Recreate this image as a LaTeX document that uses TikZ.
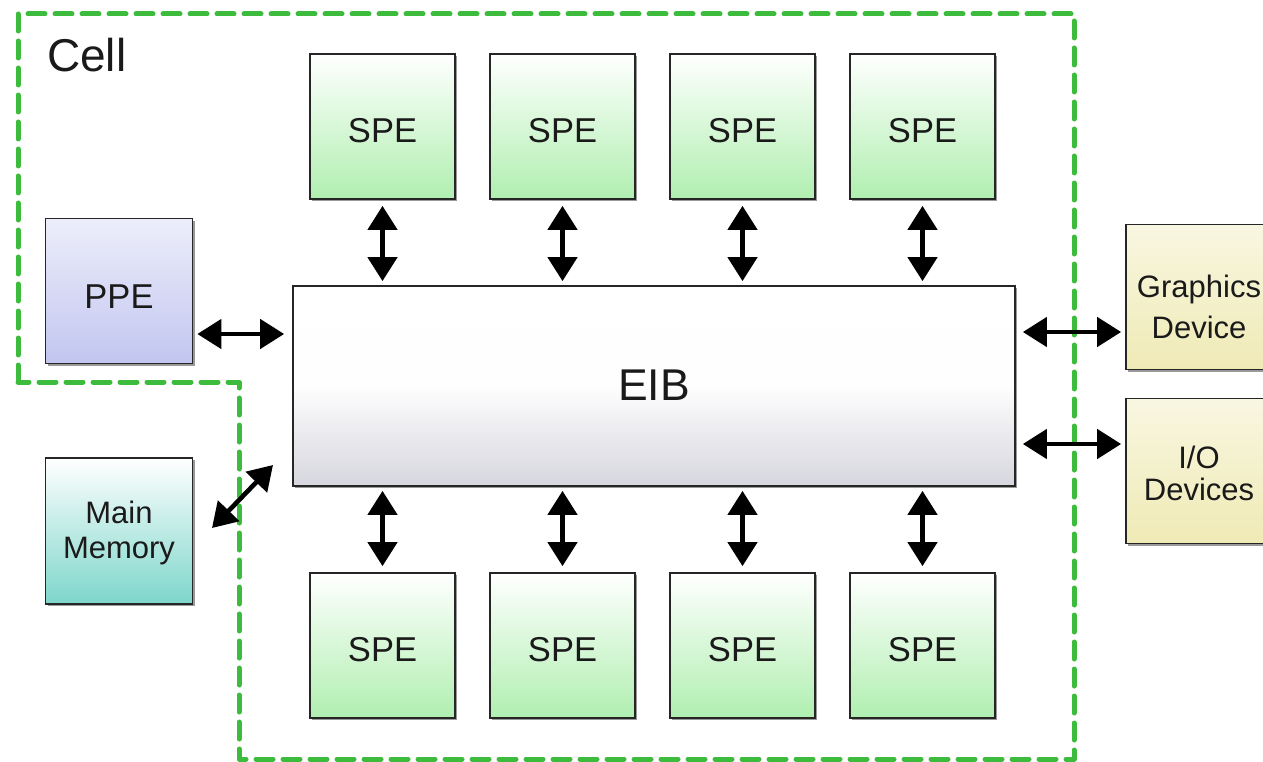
\documentclass[tikz,border=0pt]{standalone}
\usepackage{fontspec}
\setmainfont{Liberation Sans}
\usetikzlibrary{arrows.meta,shadows,calc}
\definecolor{spegreen}{HTML}{B0EFB0}
\definecolor{ppeblue}{HTML}{C2C6F0}
\definecolor{memteal}{HTML}{7DD6CB}
\definecolor{devyellow}{HTML}{EFEAB5}
\definecolor{eibgrey}{HTML}{D6D6DE}
\definecolor{cellgreen}{HTML}{3DBB3D}
\definecolor{txt}{HTML}{1A1A1A}
\newcommand{\lowr}[2]{\raisebox{-#1}[\height][\depth]{#2}}
\newcommand{\twol}[2]{\begin{tabular}{@{}c@{}}#1\\#2\end{tabular}}
\tikzset{
  box/.style={draw=black!85, line width=1.7pt, inner sep=0pt, text=txt,
    drop shadow={shadow xshift=2pt, shadow yshift=-2pt, fill=black, opacity=0.4}},
  spebox/.style={box, minimum width=145pt, minimum height=145pt, top color=white, bottom color=spegreen,
    font=\fontsize{34.5}{40}\selectfont},
  ppebox/.style={box, minimum width=147pt, minimum height=145pt, top color=white!70!ppeblue, bottom color=ppeblue,
    font=\fontsize{34.5}{40}\selectfont},
  membox/.style={box, minimum width=147pt, minimum height=146pt, top color=white, bottom color=memteal,
    font=\fontsize{31}{35}\selectfont},
  devbox/.style={box, minimum width=146pt, minimum height=145pt, top color=white!60!devyellow, bottom color=devyellow,
    font=\fontsize{31}{41}\selectfont},
  eibbox/.style={box, minimum width=722pt, minimum height=200pt, top color=white,
    bottom color=eibgrey, middle color=white!97!eibgrey, font=\fontsize{44.5}{50}\selectfont},
  biarrow/.style={line width=4.6pt, {Triangle[width=29pt,length=24pt]}-{Triangle[width=29pt,length=24pt]}},
  cellborder/.style={cellgreen, line width=5pt, dash pattern=on 17pt off 10pt, line cap=round, line join=round}
}
\begin{document}
\begin{tikzpicture}[x=1pt,y=-1pt]
\useasboundingbox (0,0) rectangle (1263,762);
% cell border
\draw[cellborder] (18,382) -- (18,14) -- (1074,14) -- (1074,759) -- (239,759) -- (239,382) -- cycle;
\node[anchor=base west, font=\fontsize{46}{50}\selectfont, text=txt, inner sep=0pt] (cell) at (47,72) {Cell};
% boxes
\node[spebox] (s1) at (382.5,126.5) {\lowr{4pt}{SPE}};
\node[spebox] (s2) at (562.5,126.5) {\lowr{4pt}{SPE}};
\node[spebox] (s3) at (742.5,126.5) {\lowr{4pt}{SPE}};
\node[spebox] (s4) at (922.5,126.5) {\lowr{4pt}{SPE}};
\node[spebox] (b1) at (382.5,645.5) {\lowr{4.5pt}{SPE}};
\node[spebox] (b2) at (562.5,645.5) {\lowr{4.5pt}{SPE}};
\node[spebox] (b3) at (742.5,645.5) {\lowr{4.5pt}{SPE}};
\node[spebox] (b4) at (922.5,645.5) {\lowr{4.5pt}{SPE}};
\node[eibbox] (eib) at (654,386) {\lowr{-1pt}{EIB}};
\node[ppebox] (ppe) at (119,291) {\lowr{5.5pt}{PPE}};
\node[membox] (mem) at (119,531) {\lowr{3pt}{\twol{Main}{Memory}}};
\node[devbox] (gfx) at (1199,297) {\lowr{13pt}{\twol{Graphics}{Device}}};
\node[devbox, font=\fontsize{31}{32}\selectfont] (io) at (1199,471) {\lowr{7pt}{\twol{I/O}{Devices}}};
% arrows
\foreach \s in {s1,s2,s3,s4}{
  \draw[biarrow, shorten <=6pt, shorten >=4pt] (\s.south) -- (\s.south |- eib.north);
}
\foreach \s in {b1,b2,b3,b4}{
  \draw[biarrow, shorten <=4pt, shorten >=6pt] (\s.north |- eib.south) -- (\s.north);
}
\draw[biarrow, shorten <=4pt, shorten >=8pt] ([yshift=-43pt]ppe.east) -- ([yshift=-43pt]ppe.east -| eib.west);
\draw[biarrow, shorten <=7pt, shorten >=4pt] ([yshift=-35pt]gfx.west -| eib.east) -- ([yshift=-35pt]gfx.west);
\draw[biarrow, shorten <=7pt, shorten >=4pt] ([yshift=27pt]io.west -| eib.east) -- ([yshift=27pt]io.west);
\coordinate (mmA) at (212,528);
\coordinate (mmB) at (273,465);
\draw[biarrow] (mmA) -- (mmB);
\end{tikzpicture}
\end{document}
